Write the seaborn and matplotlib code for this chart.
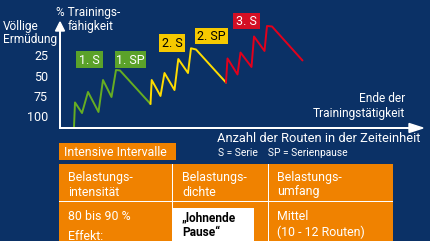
import matplotlib
matplotlib.use("Agg")
import matplotlib.pyplot as plt
from matplotlib.patches import Rectangle, Polygon
import seaborn as sns
import pandas as pd

# ---------------- data ----------------
green_x = [14, 15, 22, 28, 38.5, 43, 51.5, 56, 60, 90.5]
green_y = [111.1, 80.9, 93.9, 68.0, 92.6, 53.3, 74.2, 41.0, 41.6, 82.8]
yellow_x = [90.5, 91.7, 100.5, 104.5, 114.5, 118.3, 128, 131, 136, 166]
yellow_y = [82.8, 53.3, 72.9, 44.7, 65.6, 27.5, 44.7, 14.3, 15.8, 56.4]
red_x = [166, 167.5, 177.5, 180.5, 191.5, 194, 204.5, 207, 212, 242.5]
red_y = [56.4, 26.8, 46.5, 19.5, 37.3, -0.2, 17.6, -13.1, -12.5, 29.3]
y_ticks = [25, 50, 75, 100]
phase_labels = ["1. S", "1. SP", "2. S", "2. SP", "3. S"]
header_cells = [["Belastungs-", "intensität"], ["Belastungs-", "dichte"], ["Belastungs-", "umfang"]]
value_cells = [["80 bis 90 %", "Effekt:"], ["„lohnende", "Pause“"], ["Mittel", "(10 - 12 Routen)"]]

NAVY = "#0b3166"
GREEN = "#66ad22"
GREEN_BOX = "#5ba22a"
YELLOW = "#ffdc00"
YELLOW_BOX = "#f6c900"
RED = "#e3001b"
RED_BOX = "#d40f24"
ORANGE = "#f08200"

sns.set_theme(style="white")
plt.rcParams["font.family"] = ["Roboto", "DejaVu Sans"]

W, H = 430, 241
fig = plt.figure(figsize=(W / 100, H / 100), dpi=100, facecolor=NAVY)

def fx(px):
    return px / W

def fy(py):
    return 1 - py / H

# chart axes: pixel x 60..425, y 22..128
ax = fig.add_axes([fx(60), fy(128), fx(425) - fx(60), fy(22) - fy(128)])
ax.set_facecolor("none")
df_g = pd.DataFrame({"x": green_x, "y": green_y})
df_y = pd.DataFrame({"x": yellow_x, "y": yellow_y})
df_r = pd.DataFrame({"x": red_x, "y": red_y})
for d, c in [(df_g, GREEN), (df_y, YELLOW), (df_r, RED)]:
    sns.lineplot(data=d, x="x", y="y", color=c, lw=1.4, sort=False, estimator=None, ax=ax)
ax.set_xlim(0, 365)
ax.set_ylim(112.3, -18)
for s in ax.spines.values():
    s.set_visible(False)
ax.set_xticks([])
ax.set_yticks([])
ax.set_xlabel("")
ax.set_ylabel("")
for t in y_ticks:
    ax.text(-0.033, t, str(t), transform=ax.get_yaxis_transform(), ha="right", va="center",
            color="white", fontsize=9)

def frect(x0, y0, x1, y1, color, z=4):
    fig.patches.append(Rectangle((fx(x0), fy(y1)), fx(x1) - fx(x0), fy(y0) - fy(y1),
                                 transform=fig.transFigure, color=color, zorder=z, lw=0))

# axis arrows (figure coords)
frect(59, 30, 61, 129, "white", 5)
frect(59, 127, 412, 129, "white", 5)
fig.patches.append(Polygon([(fx(55.5), fy(31)), (fx(64.5), fy(31)), (fx(60), fy(22))], closed=True,
                           transform=fig.transFigure, color="white", zorder=5))
fig.patches.append(Polygon([(fx(409), fy(123.5)), (fx(409), fy(132.5)), (fx(423), fy(128))], closed=True,
                           transform=fig.transFigure, color="white", zorder=5))

def ftext(px, py, s, ha="left", size=8.6, color="white", weight="normal", va="center"):
    fig.text(fx(px), fy(py), s, ha=ha, va=va, fontsize=size, color=color, weight=weight, zorder=10)

ftext(56, 12.5, "% Trainings-")
ftext(68, 26, "fähigkeit")
ftext(3, 26, "Völlige")
ftext(3, 40, "Ermüdung")
ftext(405, 99, "Ende der", ha="right")
ftext(405, 113, "Trainingstätigkeit", ha="right")
ftext(217, 138.5, "Anzahl der Routen in der Zeiteinheit", size=9.3)
ftext(218, 153, "S = Serie    SP = Serienpause", size=7.4)

# phase label boxes
boxes = [(76, 51, 103, 68, GREEN_BOX, "white"),
         (115, 51, 146, 68, GREEN_BOX, "white"),
         (159, 34, 185, 52, YELLOW_BOX, "black"),
         (195, 28, 228, 44, YELLOW_BOX, "black"),
         (233, 13, 260, 29, RED_BOX, "white")]
for lab, (x0, y0, x1, y1, fc, tc) in zip(phase_labels, boxes):
    frect(x0, y0, x1, y1, fc, 4)
    ftext((x0 + x1) / 2, (y0 + y1) / 2 + 0.5, lab, ha="center", size=9, color=tc)

# orange title box
frect(59, 143, 176, 160, ORANGE, 4)
ftext(64.5, 152, "Intensive Intervalle", size=8.9)

# table
frect(59, 164, 393, 241, ORANGE, 3)
frect(172.5, 208, 254, 241, "white", 4)
frect(59, 201.2, 393, 202.4, "white", 4)
for cx in (172, 267.5):
    frect(cx, 164, cx + 1.1, 241, "white", 4)
col_x = [68, 182, 277]
for cx, cell in zip(col_x, header_cells):
    ftext(cx, 177, cell[0], size=8.9)
    ftext(cx, 192, cell[1], size=8.9)
for i, (cx, cell) in enumerate(zip(col_x, value_cells)):
    if i == 1:
        ftext(cx, 217.5, cell[0], size=8.6, color="black", weight="bold")
        ftext(cx, 232, cell[1], size=8.6, color="black", weight="bold")
    elif i == 0:
        ftext(cx, 217, cell[0], size=8.9)
        ftext(cx, 236, cell[1], size=8.9)
    else:
        ftext(cx, 217, cell[0], size=8.9)
        ftext(cx, 232, cell[1], size=8.9)

fig.savefig("out.png", dpi=100, facecolor=NAVY)
